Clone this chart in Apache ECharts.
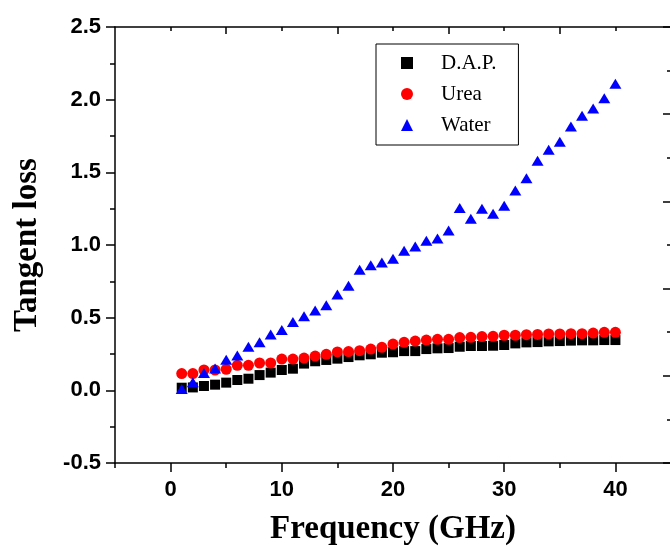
<!DOCTYPE html>
<html>
<head>
<meta charset="utf-8">
<script src="https://cdn.jsdelivr.net/npm/echarts@6/dist/echarts.min.js"></script>
<style>
html,body{margin:0;padding:0;background:#fff;}
#chart{width:670px;height:550px;}
</style>
</head>
<body>
<div id="chart"></div>
<script>
// ---- data ----
const freq = [1,2,3,4,5,6,7,8,9,10,11,12,13,14,15,16,17,18,19,20,21,22,23,24,25,26,27,28,29,30,31,32,33,34,35,36,37,38,39,40];
const dap = [0.018,0.02,0.03,0.039,0.053,0.071,0.08,0.105,0.122,0.14,0.149,0.184,0.2,0.209,0.218,0.229,0.241,0.248,0.259,0.262,
             0.27,0.27,0.284,0.289,0.291,0.30,0.305,0.305,0.307,0.312,0.323,0.33,0.332,0.337,0.339,0.342,0.344,0.344,0.346,0.346];
const urea = [0.115,0.115,0.14,0.14,0.145,0.172,0.172,0.188,0.188,0.215,0.215,0.222,0.236,0.248,0.264,0.267,0.273,0.284,0.296,0.318,
              0.330,0.339,0.346,0.351,0.351,0.363,0.365,0.37,0.372,0.379,0.379,0.383,0.385,0.388,0.388,0.39,0.39,0.394,0.399,0.399];
const water = [0.01,0.055,0.12,0.15,0.21,0.24,0.30,0.33,0.385,0.415,0.47,0.51,0.55,0.585,0.66,0.72,0.83,0.86,0.88,0.905,
               0.96,0.99,1.03,1.045,1.10,1.255,1.18,1.25,1.215,1.27,1.375,1.46,1.58,1.655,1.71,1.815,1.89,1.94,2.01,2.11];
const seriesNames = ['D.A.P.','Urea','Water'];
const xMajorTicks = [0,10,20,30,40];
const xMinorTicks = [-5,5,15,25,35,45];
const topLongTicks = [5,15,25,35];
const topShortTicks = [0,10,20,30,40];
const xTitle = 'Frequency (GHz)';
const yTitle = 'Tangent loss';

const pair = (ys) => freq.map((x, i) => [x, ys[i]]);
const chart = echarts.init(document.getElementById('chart'), null, {renderer: 'canvas'});
const lineStyle = {color: '#000', width: 1.5};
const labelFont = {color: '#000', fontFamily: 'Liberation Sans, Arial, sans-serif', fontWeight: 'bold', fontSize: 22};

chart.setOption({
  animation: false,
  backgroundColor: '#fff',
  grid: {left: 115, top: 27, right: -1, bottom: 87, containLabel: false, outerBoundsMode: 'none'},
  legend: {
    left: 376, top: 44,
    orient: 'vertical',
    data: [
      {name: seriesNames[0], icon: 'rect'},
      {name: seriesNames[1], icon: 'circle'},
      {name: seriesNames[2], icon: 'triangle'}
    ],
    itemWidth: 12, itemHeight: 12,
    itemGap: 7,
    padding: [7, 22, 8, 25],
    borderColor: '#000', borderWidth: 1,
    formatter: name => '{t|' + name + '}',
    textStyle: {
      fontFamily: 'Liberation Serif, Times New Roman, serif', fontSize: 21, color: '#000', lineHeight: 24,
      rich: {t: {fontFamily: 'Liberation Serif, Times New Roman, serif', fontSize: 21, color: '#000', lineHeight: 24, padding: [0, 0, 0, 23]}}
    }
  },
  xAxis: [
    {
      type: 'value', position: 'bottom', min: -5, max: 45,
      name: xTitle, nameLocation: 'middle', nameGap: 50,
      nameTextStyle: {fontFamily: 'Liberation Serif, Times New Roman, serif', fontWeight: 'bold', fontSize: 33, color: '#000'},
      axisLine: {show: true, onZero: false, lineStyle: lineStyle},
      axisTick: {show: true, inside: false, length: 9, lineStyle: lineStyle, customValues: xMajorTicks},
      axisLabel: Object.assign({margin: 16, customValues: xMajorTicks, formatter: v => String(v)}, labelFont),
      splitLine: {show: false}
    },
    {
      type: 'value', position: 'bottom', min: -5, max: 45,
      axisLine: {show: false, onZero: false},
      axisTick: {show: true, inside: false, length: 5, lineStyle: lineStyle, customValues: xMinorTicks},
      axisLabel: {show: false},
      splitLine: {show: false}
    },
    {
      type: 'value', position: 'top', min: -5, max: 45,
      axisLine: {show: true, onZero: false, lineStyle: lineStyle},
      axisTick: {show: true, inside: true, length: 7, lineStyle: lineStyle, customValues: topLongTicks},
      axisLabel: {show: false},
      splitLine: {show: false}
    },
    {
      type: 'value', position: 'top', min: -5, max: 45,
      axisLine: {show: false, onZero: false},
      axisTick: {show: true, inside: true, length: 4, lineStyle: lineStyle, customValues: topShortTicks},
      axisLabel: {show: false},
      splitLine: {show: false}
    }
  ],
  yAxis: [
    {
      type: 'value', position: 'left', min: -0.5, max: 2.5, interval: 0.5,
      name: yTitle, nameLocation: 'middle', nameGap: 71, nameRotate: 90,
      nameTextStyle: {fontFamily: 'Liberation Serif, Times New Roman, serif', fontWeight: 'bold', fontSize: 33, color: '#000'},
      axisLine: {show: true, onZero: false, lineStyle: lineStyle},
      axisTick: {show: true, inside: false, length: 9, lineStyle: lineStyle},
      minorTick: {show: true, splitNumber: 2, length: 5, lineStyle: {color: '#000', width: 1.5}},
      axisLabel: Object.assign({margin: 14, formatter: v => v.toFixed(1)}, labelFont),
      splitLine: {show: false}, minorSplitLine: {show: false}
    },
    {
      type: 'value', position: 'right', min: 0, max: 5, interval: 1,
      axisLine: {show: true, onZero: false, lineStyle: lineStyle},
      axisTick: {show: true, inside: true, length: 8, lineStyle: lineStyle},
      minorTick: {show: true, splitNumber: 2, length: 4, lineStyle: {color: '#000', width: 1.5}},
      axisLabel: {show: false},
      splitLine: {show: false}, minorSplitLine: {show: false}
    }
  ],
  series: [
    {name: seriesNames[0], type: 'scatter', xAxisIndex: 0, yAxisIndex: 0, symbol: 'rect', symbolSize: 10,
     itemStyle: {color: '#000', opacity: 1}, data: pair(dap)},
    {name: seriesNames[1], type: 'scatter', xAxisIndex: 0, yAxisIndex: 0, symbol: 'circle', symbolSize: 11,
     itemStyle: {color: '#ff0000', opacity: 1}, data: pair(urea)},
    {name: seriesNames[2], type: 'scatter', xAxisIndex: 0, yAxisIndex: 0, symbol: 'triangle', symbolSize: [12, 10],
     itemStyle: {color: '#0000ff', opacity: 1}, data: pair(water)}
  ]
});
</script>
</body>
</html>
